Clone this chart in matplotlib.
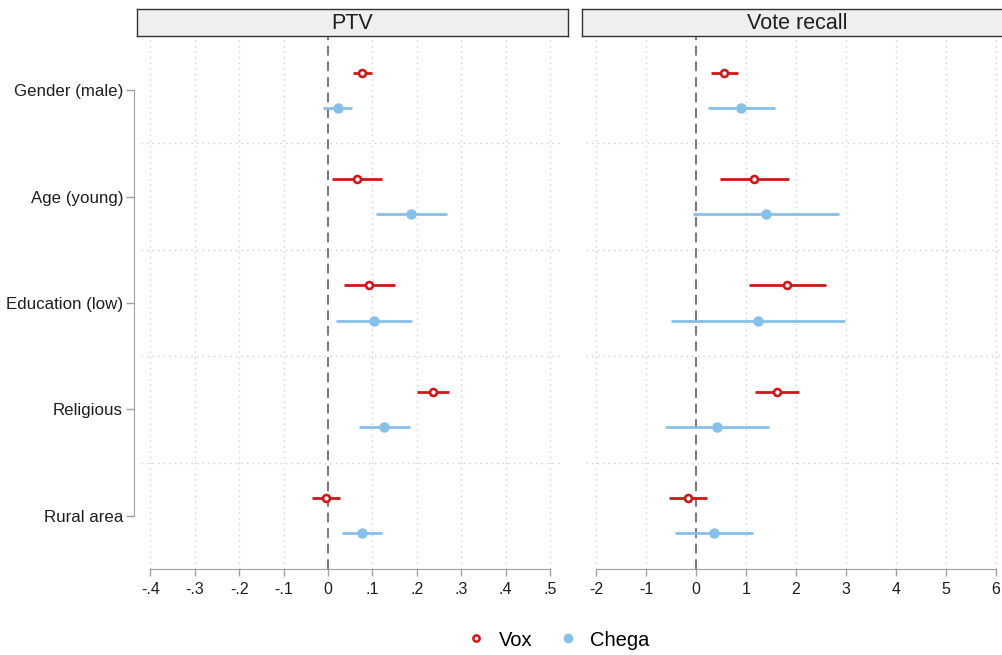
import matplotlib
matplotlib.use("Agg")
import matplotlib.pyplot as plt
from matplotlib.lines import Line2D
import numpy as np

plt.rcParams['font.family'] = ['Liberation Sans', 'DejaVu Sans']

categories = ["Gender (male)", "Age (young)", "Education (low)", "Religious", "Rural area"]

# PTV panel
ptv_vox = [0.076, 0.065, 0.092, 0.236, -0.005]
ptv_vox_lo = [0.056, 0.010, 0.036, 0.201, -0.036]
ptv_vox_hi = [0.098, 0.122, 0.150, 0.273, 0.027]
ptv_chega = [0.022, 0.187, 0.103, 0.127, 0.077]
ptv_chega_lo = [-0.012, 0.107, 0.018, 0.070, 0.032]
ptv_chega_hi = [0.055, 0.269, 0.189, 0.184, 0.122]

# Vote recall panel
vr_vox = [0.57, 1.17, 1.83, 1.62, -0.15]
vr_vox_lo = [0.31, 0.49, 1.07, 1.18, -0.53]
vr_vox_hi = [0.85, 1.86, 2.61, 2.07, 0.23]
vr_chega = [0.91, 1.41, 1.25, 0.43, 0.36]
vr_chega_lo = [0.25, -0.05, -0.49, -0.61, -0.41]
vr_chega_hi = [1.59, 2.87, 2.99, 1.47, 1.15]

ptv_ticks = [-0.4, -0.3, -0.2, -0.1, 0, 0.1, 0.2, 0.3, 0.4, 0.5]
ptv_ticklabels = ["-.4", "-.3", "-.2", "-.1", "0", ".1", ".2", ".3", ".4", ".5"]
vr_ticks = [-2, -1, 0, 1, 2, 3, 4, 5, 6]
vr_ticklabels = ["-2", "-1", "0", "1", "2", "3", "4", "5", "6"]

RED = "#cc1818"
BLUE = "#86c0e8"
GRID = "#cfcfcf"
SPINE = "#a0a0a0"
TXT = "#1e1e1e"

W, H = 1003, 655
fig = plt.figure(figsize=(W / 100, H / 100), dpi=100)

ax_top, ax_bot = 37, 569

def px_axes(x0, x1):
    return fig.add_axes([x0 / W, (H - ax_bot) / H, (x1 - x0) / W, (ax_bot - ax_top) / H])

def panel(ax, title, strip_x0, strip_x1, vox, vlo, vhi, ch, clo, chi, ticks, labels, xlim, ylabels):
    y = np.arange(1, len(categories) + 1)
    off = 0.165
    for t in ticks:
        if t != 0:
            ax.axvline(t, color=GRID, lw=1, ls=(0, (1, 3)), zorder=0)
    for yy in np.arange(1.5, len(categories), 1.0):
        ax.axhline(yy, xmin=0.01, xmax=0.98, color=GRID, lw=1, ls=(0, (1, 3)), zorder=0)
    ax.axvline(0, color="#777777", lw=1.4, ls=(0, (5, 3)), zorder=1)
    ax.hlines(y - off, vlo, vhi, color=RED, lw=2, zorder=2)
    ax.plot(vox, y - off, 'o', ms=5, mfc="white", mec=RED, mew=1.9, zorder=3)
    ax.hlines(y + off, clo, chi, color=BLUE, lw=2, zorder=2)
    ax.plot(ch, y + off, 'o', ms=6.5, mfc=BLUE, mec=BLUE, zorder=3)
    ax.set_xlim(*xlim)
    ax.set_ylim(len(categories) + 0.5, 0.5)
    for s in ["top", "right"]:
        ax.spines[s].set_visible(False)
    ax.spines["bottom"].set_bounds(ticks[0], ticks[-1])
    ax.spines["bottom"].set_color(SPINE)
    ax.set_xticks(ticks)
    ax.set_xticklabels(labels, fontsize=11.5, color=TXT)
    ax.tick_params(axis="x", colors=SPINE, labelcolor=TXT, length=5, width=1, pad=4)
    if ylabels:
        ax.spines["left"].set_bounds(1, len(categories))
        ax.spines["left"].set_color(SPINE)
        ax.spines["left"].set_position(("outward", 2))
        ax.set_yticks(y)
        ax.set_yticklabels(categories, fontsize=12.2, color=TXT)
        ax.tick_params(axis="y", colors=SPINE, labelcolor=TXT, length=6, width=1, pad=2)
    else:
        ax.spines["left"].set_visible(False)
        ax.set_yticks([])
    sax = fig.add_axes([strip_x0 / W, (H - 36) / H, (strip_x1 - strip_x0) / W, 27 / H])
    sax.set_facecolor("#efefef")
    sax.set_xticks([]); sax.set_yticks([])
    for s in sax.spines.values():
        s.set_color("#333333"); s.set_linewidth(1.0)
    sax.text(0.5, 0.47, title, ha="center", va="center", fontsize=15.5, color=TXT, transform=sax.transAxes)

# Left panel
lx0, lx1 = 137, 568
l_zero, l_scale = 328, 444.0
axL = px_axes(lx0, lx1)
panel(axL, "PTV", 137, 568, ptv_vox, ptv_vox_lo, ptv_vox_hi, ptv_chega, ptv_chega_lo, ptv_chega_hi,
      ptv_ticks, ptv_ticklabels, ((lx0 - l_zero) / l_scale, (lx1 - l_zero) / l_scale), True)

# Right panel
rx0, rx1 = 582, 1013
r_zero, r_scale = 696, 50.0
axR = px_axes(rx0, rx1)
panel(axR, "Vote recall", 582, 1013, vr_vox, vr_vox_lo, vr_vox_hi, vr_chega, vr_chega_lo, vr_chega_hi,
      vr_ticks, vr_ticklabels, ((rx0 - r_zero) / r_scale, (rx1 - r_zero) / r_scale), False)

handles = [Line2D([], [], ls="none", marker="o", ms=4.5, mfc="white", mec=RED, mew=1.8),
           Line2D([], [], ls="none", marker="o", ms=6, mfc=BLUE, mec=BLUE)]
fig.legend(handles, ["Vox", "Chega"], loc="center", bbox_to_anchor=(558 / W, (H - 640) / H),
           ncol=2, frameon=False, fontsize=14.5, handletextpad=0.6, columnspacing=1.3, handlelength=1.0)

fig.savefig("out.png", dpi=100, facecolor="white")
